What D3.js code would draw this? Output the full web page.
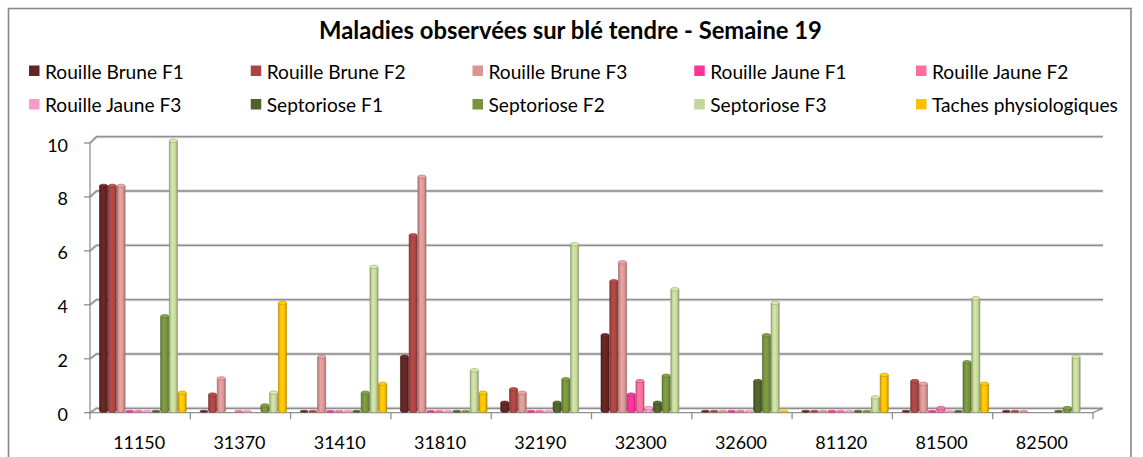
<!DOCTYPE html>
<html><head><meta charset="utf-8">
<script src="https://cdn.jsdelivr.net/npm/d3@7"></script>
<style>
body{margin:0;background:#fff}
svg{display:block}
text{font-family:Lato,"Open Sans",sans-serif;fill:#000}
</style>
</head><body>
<svg id="chart" width="1143" height="457"></svg>
<script>
// ---------- DATA ----------
const title = "Maladies observées sur blé tendre - Semaine 19";
const categories = ["11150","31370","31410","31810","32190","32300","32600","81120","81500","82500"];
const seriesNames = ["Rouille Brune F1","Rouille Brune F2","Rouille Brune F3","Rouille Jaune F1","Rouille Jaune F2","Rouille Jaune F3","Septoriose F1","Septoriose F2","Septoriose F3","Taches physiologiques"];
const seriesColors = ["#632523","#A94543","#D99694","#FF3399","#FF6E9C","#FF99CC","#4F6228","#77933C","#C3D69B","#FFC000"];
const rouilleBruneF1 = [8.33, 0,    0,    2,    0.3,  2.8, 0,   0,    0,    0];
const rouilleBruneF2 = [8.33, 0.6,  0,    6.5,  0.8,  4.8, 0,   0,    1.1,  0];
const rouilleBruneF3 = [8.33, 1.2,  2,    8.67, 0.67, 5.5, 0,   0,    1,    0];
const rouilleJauneF1 = [0,    null, 0,    0,    0,    0.6, 0,   0,    0,    null];
const rouilleJauneF2 = [0,    0,    0,    0,    0,    1.1, 0,   0,    0.1,  null];
const rouilleJauneF3 = [0,    0,    0,    0,    0,    0.1, 0,   0,    0,    null];
const septorioseF1   = [0,    null, 0,    0,    0.3,  0.3, 1.1, 0,    0,    0];
const septorioseF2   = [3.5,  0.2,  0.67, 0,    1.17, 1.3, 2.8, 0,    1.8,  0.1];
const septorioseF3   = [10,   0.67, 5.33, 1.5,  6.17, 4.5, 4,   0.5,  4.17, 2];
const tachesPhysio   = [0.67, 4,    1,    0.67, null, null,0,   1.33, 1,    null];
const seriesValues = [rouilleBruneF1,rouilleBruneF2,rouilleBruneF3,rouilleJauneF1,rouilleJauneF2,rouilleJauneF3,septorioseF1,septorioseF2,septorioseF3,tachesPhysio];
const yTicks = [0,2,4,6,8,10];

// ---------- HELPERS ----------
const svg = d3.select("#chart");
const defs = svg.append("defs");
function fitSize(str, weight, target){
  const t = svg.append("text").attr("font-size",100).attr("font-weight",weight).text(str);
  const w = t.node().getComputedTextLength(); t.remove();
  return 100*target/w;
}

// ---------- FRAME ----------
svg.append("rect").attr("x",8.5).attr("y",8.5).attr("width",1122.5).attr("height",470)
  .attr("fill","#fff").attr("stroke","#878787").attr("stroke-width",1.6);

// ---------- TITLE ----------
svg.append("text").attr("x",570.5).attr("y",30).attr("text-anchor","middle")
  .attr("dominant-baseline","central").attr("font-weight","bold")
  .attr("font-size",fitSize(title,"bold",503)).text(title);

// ---------- LEGEND ----------
const legSize = fitSize("Rouille Brune F1","normal",139);
const legX = d3.scaleLinear().domain([0,4]).range([29,916]);
const legY = [71,104.5];
seriesNames.forEach((n,i)=>{
  const col=i%5,row=Math.floor(i/5);
  const g=svg.append("g").attr("transform",`translate(${legX(col)},${legY[row]})`);
  g.append("rect").attr("x",0).attr("y",-5.5).attr("width",10.5).attr("height",10.5).attr("fill",seriesColors[i]);
  g.append("text").attr("x",16).attr("y",0).attr("dominant-baseline","central").attr("font-size",legSize).text(n);
});

// ---------- SCALES ----------
const x0 = d3.scaleBand().domain(categories).range([90,1093]);
const bw = x0.bandwidth();
const x1 = d3.scaleBand().domain(seriesNames).range([bw*0.092, bw*0.962]);
const yFront = d3.scaleLinear().domain([0,10]).range([412.7,143]);
const yBack  = d3.scaleLinear().domain([0,10]).range([408.3,136.7]);
const yBar   = d3.scaleLinear().domain([0,10]).range([410.8,140.8]);
const depthDx = 6.5, wallRight = 1103;

// ---------- GRID / WALLS ----------
const grid = svg.append("g");
yTicks.forEach(v=>{
  grid.append("path").attr("d",`M90,${yFront(v)}L${90+depthDx},${yBack(v)}L${wallRight},${yBack(v)}`)
    .attr("fill","none").attr("stroke","#d4d4d4").attr("stroke-width",3);
  grid.append("path").attr("d",`M90,${yFront(v)}L${90+depthDx},${yBack(v)}L${wallRight},${yBack(v)}`)
    .attr("fill","none").attr("stroke","#8f8f8f").attr("stroke-width",1.3);
});
grid.append("path").attr("d",`M90,${yFront(0)}L1093,${yFront(0)}L${wallRight},${yBack(0)}`)
  .attr("fill","none").attr("stroke","#8f8f8f").attr("stroke-width",1.3);
grid.append("line").attr("x1",90).attr("x2",90).attr("y1",yFront(10)).attr("y2",yFront(0))
  .attr("stroke","#8f8f8f").attr("stroke-width",1.3);
yTicks.forEach(v=>{
  grid.append("line").attr("x1",84).attr("x2",90).attr("y1",yFront(v)).attr("y2",yFront(v))
    .attr("stroke","#8f8f8f").attr("stroke-width",1.3);
});
const tickXs = categories.map(c=>x0(c)).concat([x0.range()[1]]);
tickXs.forEach(x=>{
  grid.append("line").attr("x1",x).attr("x2",x).attr("y1",yFront(0)).attr("y2",yFront(0)+6.5)
    .attr("stroke","#8f8f8f").attr("stroke-width",1.3);
});

// ---------- AXIS LABELS ----------
const tickSize = fitSize("11150","normal",52);
yTicks.forEach(v=>{
  svg.append("text").attr("x",68).attr("y",yFront(v)+1.5).attr("text-anchor","end")
    .attr("dominant-baseline","central").attr("font-size",tickSize).text(v);
});
categories.forEach(c=>{
  svg.append("text").attr("x",x0(c)+bw/2-1).attr("y",441.5).attr("text-anchor","middle")
    .attr("dominant-baseline","central").attr("font-size",tickSize).text(c);
});

// ---------- BARS (cylinders) ----------
seriesColors.forEach((col,i)=>{
  const c=d3.color(col);
  const gr=defs.append("linearGradient").attr("id","g"+i).attr("x1",0).attr("x2",1).attr("y1",0).attr("y2",0);
  [[0,c.darker(0.9)],[0.15,c.darker(0.1)],[0.4,c.brighter(0.25)],[0.75,c],[1,c.darker(0.8)]]
    .forEach(([o,cc])=>gr.append("stop").attr("offset",o).attr("stop-color",cc.formatHex()));
});
const barsG = svg.append("g");
seriesNames.forEach((name,i)=>{
  const c=d3.color(seriesColors[i]);
  const g=barsG.append("g");
  categories.forEach((cat,j)=>{
    const v=seriesValues[i][j];
    if(v===null||v===undefined) return;
    const w=x1.bandwidth();
    const x=x0(cat)+x1(name);
    const cx=x+w/2, rx=w/2-0.3, ry=Math.max(1.4,w*0.2);
    const yb=yBar(0), yt=yBar(v);
    if(v===0){
      g.append("ellipse").attr("cx",cx).attr("cy",yb+0.5).attr("rx",rx).attr("ry",1.1)
        .attr("fill",c.formatHex()).attr("stroke",c.darker(0.6).formatHex()).attr("stroke-width",0.4);
      return;
    }
    g.append("ellipse").attr("cx",cx).attr("cy",yb).attr("rx",rx).attr("ry",ry)
      .attr("fill",`url(#g${i})`).attr("stroke",c.darker(1).formatHex()).attr("stroke-width",0.5);
    g.append("rect").attr("x",cx-rx).attr("y",yt).attr("width",rx*2).attr("height",yb-yt)
      .attr("fill",`url(#g${i})`);
    g.append("line").attr("x1",cx-rx).attr("x2",cx-rx).attr("y1",yt).attr("y2",yb)
      .attr("stroke",c.darker(1).formatHex()).attr("stroke-width",0.6);
    g.append("line").attr("x1",cx+rx).attr("x2",cx+rx).attr("y1",yt).attr("y2",yb)
      .attr("stroke",c.darker(1).formatHex()).attr("stroke-width",0.6);
    g.append("ellipse").attr("cx",cx).attr("cy",yt).attr("rx",rx).attr("ry",ry)
      .attr("fill",c.brighter(0.3).formatHex()).attr("stroke",c.darker(0.8).formatHex()).attr("stroke-width",0.6);
  });
});
</script>
</body></html>
